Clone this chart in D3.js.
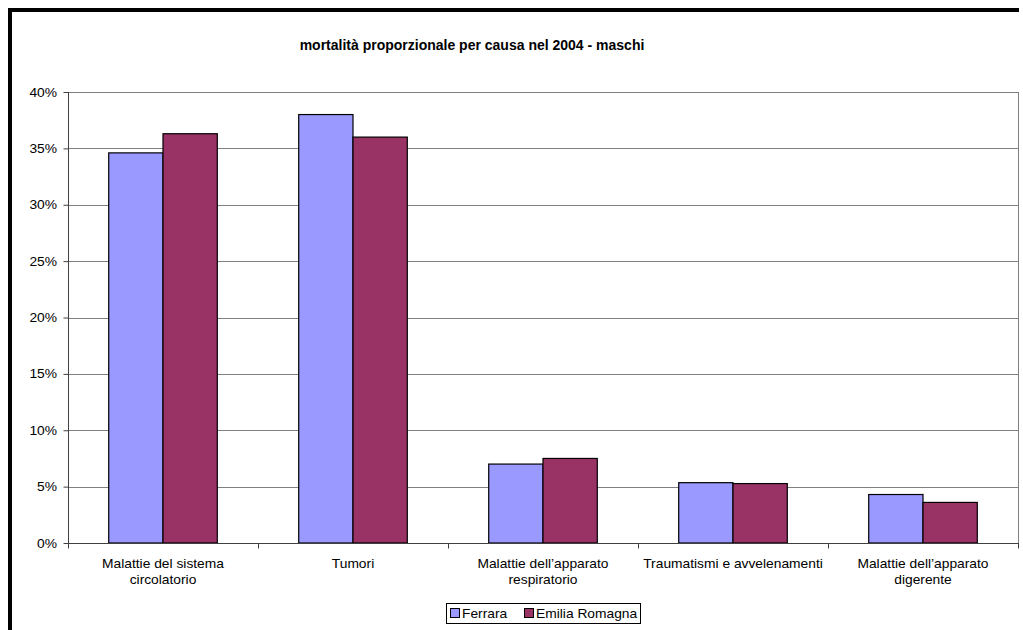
<!DOCTYPE html>
<html>
<head>
<meta charset="utf-8">
<script src="https://cdn.jsdelivr.net/npm/d3@7"></script>
<style>
  html, body { margin: 0; padding: 0; background: #fff; }
  svg { display: block; font-family: "Liberation Sans", Arial, sans-serif; }
</style>
</head>
<body>
<svg id="chart" width="1023" height="630"></svg>
<script>
// Proportional mortality by cause, 2004, males
const categories = [
  ["Malattie del sistema", "circolatorio"],
  ["Tumori"],
  ["Malattie dell\u2019apparato", "respiratorio"],
  ["Traumatismi e avvelenamenti"],
  ["Malattie dell\u2019apparato", "digerente"]
];
const seriesNames = ["Ferrara", "Emilia Romagna"];
const ferrara = [34.6, 38.0, 7.0, 5.35, 4.3];
const emiliaRomagna = [36.3, 36.0, 7.5, 5.27, 3.6];
const yTicks = [0, 5, 10, 15, 20, 25, 30, 35, 40];
const title = "mortalità proporzionale per causa nel 2004 - maschi";

const colors = ["#9999FF", "#993366"];
const values = [ferrara, emiliaRomagna];

// Label text is slightly wide; glyphs are stretched horizontally around their anchor
const STRETCH = 1.15;
function placeText(sel, x, y) {
  sel.attr("transform", `translate(${x},${y}) scale(${STRETCH},1)`);
}

const svg = d3.select("#chart");

// Outer frame (thick black, top and left)
svg.append("path")
  .attr("d", "M10,630 L10,10 L1019,10")
  .attr("fill", "none")
  .attr("stroke", "#000")
  .attr("stroke-width", 4);

const plot = { left: 68, right: 1018, top: 92, bottom: 543 };

const x0 = d3.scaleBand()
  .domain(d3.range(categories.length))
  .range([plot.left, plot.right])
  .padding(0);

const x1 = d3.scaleBand()
  .domain(d3.range(seriesNames.length))
  .range([0, x0.bandwidth()])
  .paddingInner(0)
  .paddingOuter(0.75);

const y = d3.scaleLinear()
  .domain([0, 40])
  .range([plot.bottom, plot.top]);

// Gridlines
svg.append("g")
  .selectAll("line")
  .data(yTicks.filter(t => t > 0))
  .join("line")
  .attr("x1", plot.left)
  .attr("x2", plot.right)
  .attr("y1", d => Math.round(y(d)) + 0.5)
  .attr("y2", d => Math.round(y(d)) + 0.5)
  .attr("stroke", "#808080")
  .attr("stroke-width", 1);

// Plot area border (right side)
svg.append("line")
  .attr("x1", plot.right + 0.5).attr("x2", plot.right + 0.5)
  .attr("y1", plot.top).attr("y2", plot.bottom)
  .attr("stroke", "#808080");

// Bars
const groups = svg.append("g")
  .selectAll("g")
  .data(categories.map((c, i) => i))
  .join("g")
  .attr("transform", i => `translate(${x0(i)},0)`);

groups.selectAll("rect")
  .data(i => values.map((v, s) => ({ s, v: v[i] })))
  .join("rect")
  .attr("x", d => x1(d.s))
  .attr("width", x1.bandwidth())
  .attr("y", d => y(d.v))
  .attr("height", d => y(0) - y(d.v))
  .attr("fill", d => colors[d.s])
  .attr("stroke", "#000")
  .attr("stroke-width", 1.2);

// Y axis: line and ticks from the axis generator, labels drawn separately
const yAxis = svg.append("g")
  .attr("transform", `translate(${plot.left + 0.5},0)`)
  .call(d3.axisLeft(y)
    .tickValues(yTicks)
    .tickFormat("")
    .tickSize(5));
yAxis.select(".domain").attr("stroke", "#404040").attr("d", `M0,${plot.top}V${plot.bottom + 0.5}`);
yAxis.selectAll(".tick line").attr("stroke", "#404040");

svg.append("g")
  .selectAll("text")
  .data(yTicks)
  .join("text")
  .attr("text-anchor", "end")
  .attr("font-size", 12)
  .attr("fill", "#000")
  .each(function (d) { placeText(d3.select(this), 57, y(d) + 4.5); })
  .text(d => d + "%");

// X axis
const xAxis = svg.append("g")
  .attr("transform", `translate(0,${plot.bottom + 0.5})`);
xAxis.append("line")
  .attr("x1", plot.left).attr("x2", plot.right + 1)
  .attr("stroke", "#404040");
xAxis.selectAll("line.tk")
  .data(d3.range(categories.length + 1))
  .join("line")
  .attr("class", "tk")
  .attr("x1", i => Math.round(plot.left + i * x0.step()) + 0.5)
  .attr("x2", i => Math.round(plot.left + i * x0.step()) + 0.5)
  .attr("y1", 0).attr("y2", 5)
  .attr("stroke", "#404040");

// Category labels
const catLabels = svg.append("g");
categories.forEach((lines, i) => {
  lines.forEach((line, k) => {
    catLabels.append("text")
      .attr("text-anchor", "middle")
      .attr("font-size", 12)
      .attr("fill", "#000")
      .call(placeText, x0(i) + x0.bandwidth() / 2, 568 + k * 16)
      .text(line);
  });
});

// Title
svg.append("text")
  .attr("x", 472)
  .attr("y", 50)
  .attr("text-anchor", "middle")
  .attr("font-size", 14)
  .attr("font-weight", "bold")
  .attr("fill", "#000")
  .text(title);

// Legend
const legend = svg.append("g");
legend.append("rect")
  .attr("x", 446.5).attr("y", 603.5)
  .attr("width", 194).attr("height", 20)
  .attr("fill", "#fff")
  .attr("stroke", "#000");
const legendX = [450, 524];
const items = legend.selectAll("g")
  .data(seriesNames.map((n, i) => ({ n, i })))
  .join("g")
  .attr("transform", d => `translate(${legendX[d.i]},0)`);
items.append("rect")
  .attr("x", 0.5).attr("y", 608.5)
  .attr("width", 9).attr("height", 9)
  .attr("fill", d => colors[d.i])
  .attr("stroke", "#000");
items.append("text")
  .attr("font-size", 12)
  .attr("fill", "#000")
  .each(function () { placeText(d3.select(this), 12, 618); })
  .text(d => d.n);
</script>
</body>
</html>
